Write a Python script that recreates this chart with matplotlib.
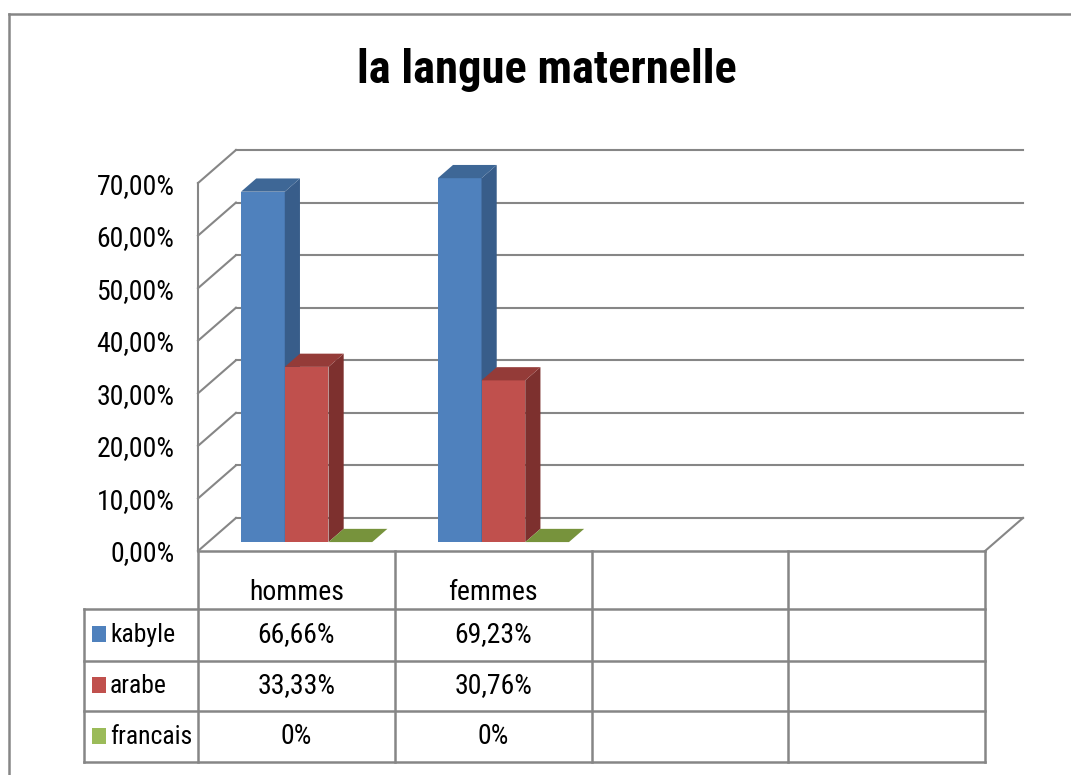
import matplotlib
matplotlib.use("Agg")
import matplotlib.pyplot as plt
from matplotlib import font_manager
from matplotlib.patches import Polygon, Rectangle
from matplotlib.lines import Line2D

categories = ["hommes", "femmes", "", ""]
series_names = ["kabyle", "arabe", "francais"]
kabyle = [66.66, 69.23]
arabe = [33.33, 30.76]
francais = [0.0, 0.0]
y_ticks = [0, 10, 20, 30, 40, 50, 60, 70]

front_colors = ["#4F81BD", "#C0504D", "#9BBB59"]
side_colors = ["#385D8A", "#7D302E", "#6B8733"]
top_colors = ["#3E6796", "#943B38", "#77933C"]
GRID = "#868686"


def pick_font(names):
    for n in names:
        try:
            font_manager.findfont(n, fallback_to_default=False)
            return n
        except ValueError:
            continue
    return "DejaVu Sans"


FONT = pick_font(["Liberation Sans Narrow", "Roboto Condensed", "Lato", "Open Sans"])
plt.rcParams["font.family"] = [FONT, "DejaVu Sans"]


def pct(v, zero_short=False):
    if zero_short and v == 0:
        return "0%"
    return f"{v:.2f}".replace(".", ",") + "%"


# oblique depth offsets (category units, percent units)
DX, DY = 0.193, 6.29
Z0, Z1 = 0.27, 0.67
GAP, BW = 0.1667, 0.2222


def proj(x, y, z):
    return (x + z * DX, y + z * DY)


W, H = 1071, 775
fig = plt.figure(figsize=(W / 100, H / 100), dpi=100)

fs = 20

ax = fig.add_axes([198 / W, 1 - 551 / H, 825 / W, 401 / H])
ax.set_xlim(0, len(categories) + DX)
ax.set_ylim(0, max(y_ticks) + DY)
for s in ax.spines.values():
    s.set_visible(False)
ax.set_xticks([])
ax.set_yticks(y_ticks)
ax.set_yticklabels([pct(v) for v in y_ticks])
ax.tick_params(axis="y", length=0, pad=17, labelsize=fs, labelcolor="#000000")
ax.patch.set_alpha(0)

lw = 1.5
n_cat = len(categories)
top = max(y_ticks)
# back wall gridlines
for v in y_ticks:
    ax.plot([DX, n_cat + DX], [v + DY, v + DY], color=GRID, lw=lw, clip_on=False)
# left wall
for v in y_ticks:
    ax.plot([0, DX], [v, v + DY], color=GRID, lw=lw, clip_on=False)
ax.plot([0, 0], [0, top], color=GRID, lw=lw, clip_on=False)
# floor
ax.plot([n_cat, n_cat + DX], [0, DY], color=GRID, lw=lw, clip_on=False)

series = [kabyle, arabe, francais]
for ci in range(len(kabyle)):
    for si, vals in enumerate(series):
        v = vals[ci]
        x0 = ci + GAP + si * BW
        x1 = x0 + BW
        front = [proj(x0, 0, Z0), proj(x1, 0, Z0), proj(x1, v, Z0), proj(x0, v, Z0)]
        side = [proj(x1, 0, Z0), proj(x1, 0, Z1), proj(x1, v, Z1), proj(x1, v, Z0)]
        topf = [proj(x0, v, Z0), proj(x1, v, Z0), proj(x1, v, Z1), proj(x0, v, Z1)]
        if v > 0:
            ax.add_patch(Polygon(front, closed=True, fc=front_colors[si], ec="none", clip_on=False, zorder=3))
            ax.add_patch(Polygon(side, closed=True, fc=side_colors[si], ec="none", clip_on=False, zorder=3))
        ax.add_patch(Polygon(topf, closed=True, fc=top_colors[si], ec="none", clip_on=False, zorder=3))

# data table
tab = fig.add_axes([84 / W, 1 - 762 / H, 901 / W, 211 / H])
unit = 196.75
hdr_w = 114 / unit
tab.set_xlim(-hdr_w, n_cat)
row_edges = [0, 58, 110, 160, 211]
tab.set_ylim(row_edges[-1], 0)
tab.axis("off")
tlw = 1.8
for x in range(n_cat + 1):
    tab.plot([x, x], [row_edges[0], row_edges[-1]], color=GRID, lw=tlw, clip_on=False)
tab.plot([0, n_cat], [0, 0], color=GRID, lw=tlw, clip_on=False)
for y in row_edges[1:]:
    tab.plot([-hdr_w, n_cat], [y, y], color=GRID, lw=tlw, clip_on=False)
tab.plot([-hdr_w, -hdr_w], [row_edges[1], row_edges[-1]], color=GRID, lw=tlw, clip_on=False)

for ci, cat in enumerate(categories):
    tab.text(ci + 0.5, 42, cat, ha="center", va="center", fontsize=fs)
for si, (name, vals) in enumerate(zip(series_names, series)):
    yc = (row_edges[si + 1] + row_edges[si + 2]) / 2
    tab.add_patch(Rectangle((-hdr_w + 8 / unit, yc - 9), 14 / unit, 16, fc=front_colors[si], ec="none"))
    tab.text(-hdr_w + 26 / unit, yc, name, ha="left", va="center", fontsize=18.5)
    for ci, v in enumerate(vals):
        tab.text(ci + 0.5, yc, pct(v, zero_short=True), ha="center", va="center", fontsize=fs)

# outer chart border (only top/left visible in the crop)
fig.add_artist(Line2D([9 / W, 1], [1 - 14 / H, 1 - 14 / H], color=GRID, lw=1.8))
fig.add_artist(Line2D([9 / W, 9 / W], [0, 1 - 14 / H], color=GRID, lw=1.8))

fig.text(547 / W, 1 - 70 / H, "la langue maternelle", ha="center", va="center",
         fontsize=33.5, fontweight="bold")

fig.savefig("out.png", dpi=100)
